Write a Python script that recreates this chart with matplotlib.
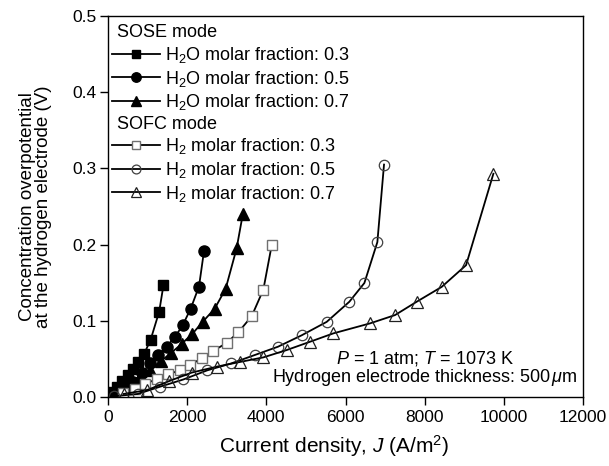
import matplotlib
matplotlib.use("Agg")
import matplotlib.pyplot as plt
from matplotlib.lines import Line2D

plt.rcParams['font.family'] = ['Liberation Sans', 'DejaVu Sans']
plt.rcParams['mathtext.fontset'] = 'custom'
plt.rcParams['mathtext.rm'] = 'Liberation Sans'
plt.rcParams['mathtext.it'] = 'Liberation Sans:italic'
plt.rcParams['font.size'] = 13

# SOSE mode (H2O molar fraction)
sose_03_j = [118, 237, 365, 494, 632, 770, 908, 1076, 1293, 1402]
sose_03_v = [0.006, 0.013, 0.021, 0.029, 0.037, 0.046, 0.056, 0.075, 0.112, 0.147]
sose_05_j = [219, 430, 640, 851, 1061, 1272, 1482, 1693, 1886, 2089, 2299, 2425]
sose_05_v = [0.005, 0.011, 0.020, 0.031, 0.044, 0.055, 0.066, 0.079, 0.094, 0.116, 0.145, 0.1915]
sose_07_j = [267, 533, 800, 1066, 1333, 1600, 1866, 2133, 2399, 2696, 2972, 3249, 3406]
sose_07_v = [0.008, 0.016, 0.026, 0.036, 0.047, 0.058, 0.070, 0.083, 0.099, 0.116, 0.142, 0.195, 0.240]

# SOFC mode (H2 molar fraction)
sofc_03_j = [387, 682, 935, 1230, 1524, 1819, 2072, 2367, 2661, 2998, 3293, 3630, 3925, 4135]
sofc_03_v = [0.0055, 0.011, 0.017, 0.0236, 0.0299, 0.035, 0.042, 0.0507, 0.0605, 0.071, 0.085, 0.106, 0.141, 0.199]
sofc_05_j = [148, 750, 1314, 1904, 2508, 3110, 3703, 4295, 4894, 5525, 6097, 6477, 6805, 6973]
sofc_05_v = [0.001, 0.004, 0.0135, 0.023, 0.035, 0.044, 0.055, 0.066, 0.081, 0.0986, 0.125, 0.1496, 0.2033, 0.305]
sofc_07_j = [395, 987, 1550, 2113, 2765, 3337, 3925, 4514, 5104, 5693, 6619, 7251, 7798, 8430, 9046, 9736]
sofc_07_v = [0.004, 0.009, 0.021, 0.032, 0.040, 0.046, 0.052, 0.0616, 0.0725, 0.0835, 0.0966, 0.1075, 0.125, 0.1445, 0.173, 0.293]

fig = plt.figure(figsize=(6.09, 4.66), dpi=100)
ax = fig.add_axes([108/609, 69/466, 475/609, 381/466])

lw = 1.3
ax.plot(sose_03_j, sose_03_v, '-s', color='black', lw=lw, ms=7, label='H$_2$O molar fraction: 0.3')
ax.plot(sose_05_j, sose_05_v, '-o', color='black', lw=lw, ms=8, label='H$_2$O molar fraction: 0.5')
ax.plot(sose_07_j, sose_07_v, '-^', color='black', lw=lw, ms=9, label='H$_2$O molar fraction: 0.7')
ax.plot(sofc_03_j, sofc_03_v, '-s', color='black', lw=lw, ms=6.5, mfc='white', mec='#707070',
        mew=1.0, label='H$_2$ molar fraction: 0.3')
ax.plot(sofc_05_j, sofc_05_v, '-o', color='black', lw=lw, ms=7.5, mfc='none', mec='#404040',
        mew=0.9, label='H$_2$ molar fraction: 0.5')
ax.plot(sofc_07_j, sofc_07_v, '-^', color='black', lw=lw, ms=8.5, mfc='none', mec='#202020',
        mew=0.9, label='H$_2$ molar fraction: 0.7')

ax.set_xlim(0, 12000)
ax.set_ylim(0, 0.5)
ax.set_xticks([0, 2000, 4000, 6000, 8000, 10000, 12000])
ax.set_yticks([0.0, 0.1, 0.2, 0.3, 0.4, 0.5])
ax.yaxis.set_major_formatter(matplotlib.ticker.FormatStrFormatter('%.1f'))
ax.tick_params(direction='out', length=6, width=1, labelsize=12.5, top=False, right=False)
ax.tick_params(axis='y', pad=2.5)
for s in ax.spines.values():
    s.set_linewidth(1.0)

ax.set_xlabel('Current density, $J$ (A/m$^2$)', fontsize=15)
ax.xaxis.set_label_coords(0.476, -0.095)
ax.set_ylabel('Concentration overpotential\nat the hydrogen electrode (V)', fontsize=13.5,
              linespacing=0.95)
ax.yaxis.set_label_coords(-0.118, 0.5)

# legend with group headings
handles, labels = ax.get_legend_handles_labels()
blank = Line2D([], [], linestyle='none')
leg_h = [blank] + handles[:3] + [blank] + handles[3:]
leg_l = ['SOSE mode'] + labels[:3] + ['SOFC mode'] + labels[3:]
leg = ax.legend(leg_h, leg_l, loc='upper left', bbox_to_anchor=(0.008, 0.978), frameon=False,
                fontsize=13, handlelength=2.65, handletextpad=0.3, labelspacing=0.2,
                borderaxespad=0.0, borderpad=0.0, markerscale=0.85)
shift = 48
for i in (0, 4):
    leg.get_texts()[i].set_x(-shift)

ax.text(0.667, 0.101, '$P$ = 1 atm; $T$ = 1073 K', transform=ax.transAxes, fontsize=13,
        ha='center', va='center')
ax.text(0.667, 0.05, r'Hydrogen electrode thickness: 500$\,\mu$m', transform=ax.transAxes,
        fontsize=13, ha='center', va='center')

fig.savefig('out.png', dpi=100)
